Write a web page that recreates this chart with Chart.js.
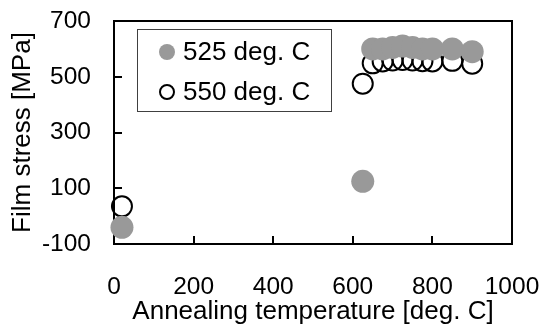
<!DOCTYPE html>
<html>
<head>
<meta charset="utf-8">
<script src="https://cdn.jsdelivr.net/npm/chart.js@4"></script>
<style>
  html, body { margin: 0; padding: 0; background: #fff; }
  #wrap { width: 544px; height: 325px; }
</style>
</head>
<body>
<div id="wrap"><canvas id="c" width="544" height="325"></canvas></div>
<script>
// annealing temperatures [deg. C] and film stress [MPa]
const temps525 = [20, 625, 650, 675, 700, 725, 750, 775, 800, 850, 900];
const stress525 = [-40, 125, 600, 600, 605, 610, 605, 600, 600, 600, 590];
const temps550 = [20, 625, 650, 675, 700, 725, 750, 775, 800, 850, 900];
const stress550 = [35, 475, 548, 555, 558, 560, 558, 556, 555, 557, 547];
const seriesLabels = ['525 deg. C', '550 deg. C'];

const FONT = "'Liberation Sans', Arial, sans-serif";

const toPts = (xs, ys) => xs.map((x, i) => ({ x: x, y: ys[i] }));

// frame + inward tick marks
const framePlugin = {
  id: 'frame',
  beforeDatasetsDraw(chart) {
    const { ctx, chartArea: a, scales: { x, y } } = chart;
    ctx.save();
    ctx.strokeStyle = '#000';
    ctx.lineWidth = 2;
    ctx.strokeRect(a.left, a.top, a.right - a.left, a.bottom - a.top);
    ctx.beginPath();
    y.ticks.forEach(t => {
      const py = Math.round(y.getPixelForValue(t.value));
      ctx.moveTo(a.left, py); ctx.lineTo(a.left + 8, py);
    });
    x.ticks.forEach(t => {
      const px = Math.round(x.getPixelForValue(t.value));
      ctx.moveTo(px, a.bottom); ctx.lineTo(px, a.bottom - 8);
    });
    ctx.stroke();
    ctx.restore();
  }
};

// boxed legend inside the plot
const legendPlugin = {
  id: 'boxLegend',
  afterDraw(chart) {
    const ctx = chart.ctx;
    ctx.save();
    ctx.strokeStyle = '#404040';
    ctx.lineWidth = 1;
    ctx.strokeRect(137.5, 29.5, 194, 82);
    ctx.font = '26px ' + FONT;
    ctx.textBaseline = 'middle';
    chart.data.datasets.forEach((ds, i) => {
      const cy = 52 + i * 40;
      ctx.beginPath();
      if (i === 0) {
        ctx.arc(167, cy, 8, 0, Math.PI * 2);
        ctx.fillStyle = ds.backgroundColor;
        ctx.fill();
      } else {
        ctx.arc(167, cy, 7, 0, Math.PI * 2);
        ctx.lineWidth = 2;
        ctx.strokeStyle = '#000';
        ctx.stroke();
      }
      ctx.fillStyle = '#000';
      ctx.fillText(ds.label, 183, cy + 1);
    });
    ctx.restore();
  }
};

new Chart(document.getElementById('c'), {
  type: 'scatter',
  data: {
    datasets: [
      {
        label: seriesLabels[0],
        data: toPts(temps525, stress525),
        backgroundColor: '#999999',
        borderColor: '#999999',
        borderWidth: 0,
        pointRadius: 11.5,
        clip: false
      },
      {
        label: seriesLabels[1],
        data: toPts(temps550, stress550),
        backgroundColor: 'rgba(0,0,0,0)',
        borderColor: '#000',
        borderWidth: 2,
        pointRadius: 10,
        clip: false
      }
    ]
  },
  options: {
    responsive: false,
    animation: false,
    layout: { padding: { top: 21, right: 32, left: 0, bottom: 0 } },
    plugins: { legend: { display: false }, tooltip: { enabled: false } },
    scales: {
      x: {
        min: 0, max: 1000,
        afterFit: s => { s.height = 81; s.paddingLeft = 0; s.paddingRight = 0; },
        grid: { display: false, drawTicks: false },
        border: { display: false },
        ticks: {
          stepSize: 200, color: '#000', padding: 29, font: { family: FONT, size: 24.5 },
          callback: v => String(v)
        },
        title: { display: true, text: 'Annealing temperature [deg. C]', color: '#000', padding: { top: 0, bottom: -2 }, font: { family: FONT, size: 26 } }
      },
      y: {
        min: -100, max: 700,
        afterFit: s => { s.width = 114; s.paddingTop = 0; s.paddingBottom = 0; },
        grid: { display: false, drawTicks: false },
        border: { display: false },
        ticks: {
          stepSize: 100, color: '#000', padding: 23, font: { family: FONT, size: 24.5 },
          callback: v => ((v + 100) % 200 === 0 ? String(v) : '')
        },
        title: { display: true, text: 'Film stress [MPa]', color: '#000', padding: { top: 7, bottom: 0 }, font: { family: FONT, size: 26 } }
      }
    }
  },
  plugins: [framePlugin, legendPlugin]
});
</script>
</body>
</html>
